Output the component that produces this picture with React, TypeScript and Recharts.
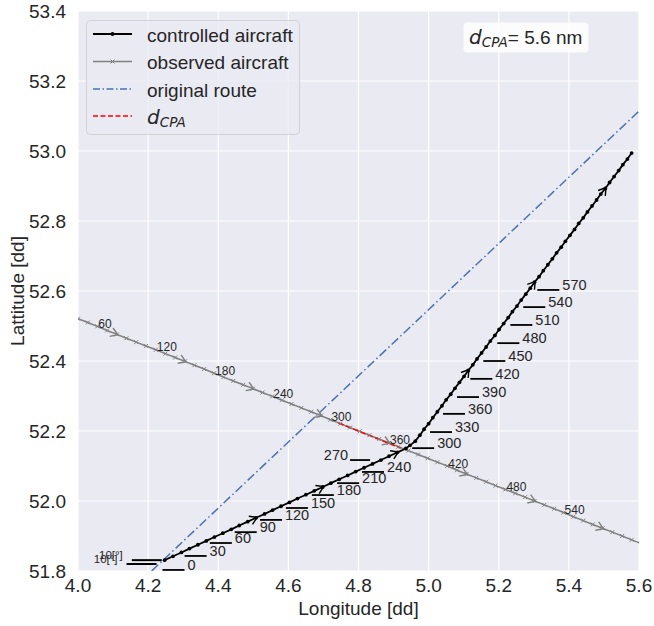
import React from "react";
import { ComposedChart, Line, Scatter, XAxis, YAxis, CartesianGrid, Label } from "recharts";

const FONT = '"Liberation Sans", Arial, sans-serif';
const MATH = '"DejaVu Sans", sans-serif';
const INK = "#262626";

// controlled aircraft, one point every 10 s
const ctrlLon = [
  4.247, 4.271, 4.295, 4.318, 4.342, 4.366, 4.389, 4.413, 4.437, 4.46, 4.484, 4.508, 4.532, 4.555, 4.579,
  4.603, 4.626, 4.65, 4.674, 4.698, 4.721, 4.745, 4.769, 4.792, 4.816, 4.84, 4.864, 4.887, 4.911, 4.935,
  4.947, 4.962, 4.975, 4.987, 5.0, 5.012, 5.025, 5.038, 5.05, 5.063, 5.075, 5.088, 5.101, 5.113, 5.126,
  5.138, 5.151, 5.164, 5.176, 5.189, 5.201, 5.214, 5.227, 5.239, 5.252, 5.264, 5.277, 5.29, 5.302, 5.315,
  5.327, 5.34, 5.353, 5.365, 5.378, 5.39, 5.403, 5.416, 5.428, 5.441, 5.453, 5.466, 5.479, 5.491, 5.504,
  5.516, 5.529, 5.542, 5.554, 5.567, 5.579,
];
const ctrlLat = [
  51.831, 51.842, 51.853, 51.864, 51.875, 51.886, 51.897, 51.908, 51.919, 51.93, 51.941, 51.952, 51.963,
  51.974, 51.985, 51.996, 52.007, 52.018, 52.029, 52.04, 52.051, 52.062, 52.073, 52.084, 52.095, 52.106,
  52.117, 52.128, 52.139, 52.15, 52.159, 52.171, 52.188, 52.205, 52.221, 52.238, 52.255, 52.272, 52.289,
  52.305, 52.322, 52.339, 52.356, 52.373, 52.389, 52.406, 52.423, 52.44, 52.457, 52.473, 52.49, 52.507,
  52.524, 52.541, 52.557, 52.574, 52.591, 52.608, 52.625, 52.641, 52.658, 52.675, 52.692, 52.709, 52.725,
  52.742, 52.759, 52.776, 52.793, 52.809, 52.826, 52.843, 52.86, 52.877, 52.893, 52.91, 52.927, 52.944,
  52.961, 52.977, 52.994,
];
const ctrlArrowIdx = [11, 19, 28, 43, 58, 74];

// observed aircraft, one point every 10 s
const obsLon = [
  3.889, 3.917, 3.944, 3.972, 4.0, 4.028, 4.055, 4.083, 4.111, 4.138, 4.166, 4.194, 4.222, 4.249, 4.277,
  4.305, 4.332, 4.36, 4.388, 4.415, 4.443, 4.471, 4.499, 4.526, 4.554, 4.582, 4.609, 4.637, 4.665, 4.693,
  4.72, 4.748, 4.776, 4.803, 4.831, 4.859, 4.887, 4.914, 4.942, 4.97, 4.997, 5.025, 5.053, 5.081, 5.108,
  5.136, 5.164, 5.191, 5.219, 5.247, 5.275, 5.302, 5.33, 5.358, 5.385, 5.413, 5.441, 5.468, 5.496, 5.524,
  5.552, 5.579, 5.607,
];
const obsLat = [
  52.565, 52.554, 52.543, 52.532, 52.521, 52.51, 52.499, 52.487, 52.476, 52.465, 52.454, 52.443, 52.432,
  52.421, 52.41, 52.399, 52.388, 52.377, 52.365, 52.354, 52.343, 52.332, 52.321, 52.31, 52.299, 52.288,
  52.277, 52.266, 52.255, 52.244, 52.232, 52.221, 52.21, 52.199, 52.188, 52.177, 52.166, 52.155, 52.144,
  52.133, 52.122, 52.111, 52.1, 52.088, 52.077, 52.066, 52.055, 52.044, 52.033, 52.022, 52.011, 52.0,
  51.989, 51.978, 51.967, 51.955, 51.944, 51.933, 51.922, 51.911, 51.9, 51.889, 51.878,
];
const obsArrowIdx = [8, 15, 22, 29, 36, 44, 51, 58];
const obsLabelIdx = [6, 12, 18, 24, 30, 36, 42, 48, 54];
const obsLabelText = ["60", "120", "180", "240", "300", "360", "420", "480", "540"];

// original route and CPA segment
const routeLon = [4.21, 5.6];
const routeLat = [51.8, 53.114];
const cpaLon = [4.743, 4.92];
const cpaLat = [52.223, 52.151];

// time labels of the controlled aircraft
const ctrlLabelText = ["0", "30", "60", "90", "120", "150", "180", "210", "240", "300", "330", "360", "390", "420", "450", "480", "510", "540", "570"];
const ctrlLabelLon = [4.241, 4.304, 4.376, 4.447, 4.519, 4.593, 4.667, 4.739, 4.81, 4.953, 5.004, 5.041, 5.081, 5.119, 5.156, 5.196, 5.233, 5.27, 5.31];
const ctrlLabelLat = [51.803, 51.843, 51.88, 51.911, 51.946, 51.98, 52.017, 52.051, 52.083, 52.151, 52.197, 52.249, 52.297, 52.349, 52.4, 52.451, 52.503, 52.554, 52.603];
const leftLabelText = ["270"];
const leftLabelLon = [4.833];
const leftLabelLat = [52.117];
const hdgLabelText = ["10[°]", "10[°]"];
const hdgLabelLon = [4.239, 4.224];
const hdgLabelLat = [51.831, 51.82];

const xTicks = [4.0, 4.2, 4.4, 4.6, 4.8, 5.0, 5.2, 5.4, 5.6];
const yTicks = [51.8, 52.0, 52.2, 52.4, 52.6, 52.8, 53.0, 53.2, 53.4];

const pts = (lon: number[], lat: number[]) => lon.map((x, i) => ({ lon: x, lat: lat[i] }));
const heading = (lon: number[], lat: number[], i: number) =>
  Math.atan2(-(lat[i + 1] - lat[i - 1]), lon[i + 1] - lon[i - 1]);

const ctrlData = pts(ctrlLon, ctrlLat);
const obsData = pts(obsLon, obsLat);
const routeData = pts(routeLon, routeLat);
const cpaData = pts(cpaLon, cpaLat);
const ctrlArrows = ctrlArrowIdx.map((i) => ({ lon: ctrlLon[i], lat: ctrlLat[i], angle: heading(ctrlLon, ctrlLat, i) }));
const obsArrows = obsArrowIdx.map((i) => ({ lon: obsLon[i], lat: obsLat[i], angle: heading(obsLon, obsLat, i) }));
const obsLabels = obsLabelIdx.map((i, k) => ({ lon: obsLon[i], lat: obsLat[i], text: obsLabelText[k] }));
const ctrlLabels = ctrlLabelText.map((t, i) => ({ lon: ctrlLabelLon[i], lat: ctrlLabelLat[i], text: t }));
const leftLabels = leftLabelText.map((t, i) => ({ lon: leftLabelLon[i], lat: leftLabelLat[i], text: t }));
const hdgLabels = hdgLabelText.map((t, i) => ({ lon: hdgLabelLon[i], lat: hdgLabelLat[i], text: t }));

const arrowShape = (color: string) => (p: any) => (
  <path
    d="M-6,-4.5L1,0L-6,4.5"
    transform={`translate(${p.cx},${p.cy}) rotate(${(p.payload.angle * 180) / Math.PI})`}
    fill="none"
    stroke={color}
    strokeWidth={1.4}
  />
);

const obsLabelShape = (p: any) => (
  <text x={p.cx + 1} y={p.cy + 1.5} fontSize={12} fontFamily={FONT} fill={INK}>
    {p.payload.text}
  </text>
);

const ctrlLabelShape = (p: any) => (
  <g>
    <line x1={p.cx} y1={p.cy} x2={p.cx + 22} y2={p.cy} stroke="#000" strokeWidth={1.8} />
    <text x={p.cx + 25} y={p.cy} fontSize={14.5} fontFamily={FONT} fill={INK}>
      {p.payload.text}
    </text>
  </g>
);

const leftLabelShape = (p: any) => (
  <g>
    <line x1={p.cx - 20} y1={p.cy} x2={p.cx} y2={p.cy} stroke="#000" strokeWidth={1.8} />
    <text x={p.cx - 22} y={p.cy} fontSize={14.5} fontFamily={FONT} fill={INK} textAnchor="end">
      {p.payload.text}
    </text>
  </g>
);

const hdgLabelShape = (p: any) => (
  <g>
    <line x1={p.cx - 30} y1={p.cy} x2={p.cx} y2={p.cy} stroke="#000" strokeWidth={2} />
    <text x={p.cx - 39} y={p.cy - 1} fontSize={11.5} fontFamily={FONT} fill={INK} textAnchor="end">
      {p.payload.text}
    </text>
  </g>
);

const ctrlDot = (p: any) => <circle key={p.index} cx={p.cx} cy={p.cy} r={1.9} fill="#000" />;
const obsDot = (p: any) => (
  <path
    key={p.index}
    d={`M${p.cx - 2},${p.cy - 2}L${p.cx + 2},${p.cy + 2}M${p.cx - 2},${p.cy + 2}L${p.cx + 2},${p.cy - 2}`}
    stroke="#808080"
    strokeWidth={1}
  />
);

function Overlay() {
  const sx1 = 93;
  const sx2 = 132;
  const mid = (sx1 + sx2) / 2;
  const base = [41.5, 69, 96.5, 124];
  const tStyle = { fontSize: 19, fontFamily: FONT, fill: INK };
  return (
    <svg width={654} height={626} style={{ position: "absolute", left: 0, top: 0, pointerEvents: "none" }}>
      <rect x={86.5} y={20.5} width={213} height={114} rx={4} fill="#eaeaf2" fillOpacity={0.8} stroke="#cccccc" strokeOpacity={0.8} />
      <line x1={sx1} x2={sx2} y1={base[0] - 7.5} y2={base[0] - 7.5} stroke="#000" strokeWidth={1.8} />
      <circle cx={mid} cy={base[0] - 7.5} r={2} fill="#000" />
      <text x={147} y={base[0]} {...tStyle}>controlled aircraft</text>
      <line x1={sx1} x2={sx2} y1={base[1] - 7.5} y2={base[1] - 7.5} stroke="#808080" strokeWidth={1.5} />
      <path d={`M${mid - 2},${base[1] - 9.5}L${mid + 2},${base[1] - 5.5}M${mid - 2},${base[1] - 5.5}L${mid + 2},${base[1] - 9.5}`} stroke="#808080" strokeWidth={1} />
      <text x={147} y={base[1]} {...tStyle}>observed aircraft</text>
      <line x1={sx1} x2={sx2} y1={base[2] - 7.5} y2={base[2] - 7.5} stroke="#4c72b0" strokeWidth={1.5} strokeDasharray="7 2.5 1.5 2.5" />
      <text x={147} y={base[2]} {...tStyle}>original route</text>
      <line x1={sx1} x2={sx2} y1={base[3] - 8} y2={base[3] - 8} stroke="#ff0000" strokeWidth={1.5} strokeDasharray="5 2.5" />
      <text x={147} y={base[3]} fill={INK}>
        <tspan fontFamily={MATH} fontStyle="italic" fontSize={20}>d</tspan>
        <tspan fontFamily={MATH} fontStyle="italic" fontSize={13.5} dy={3}>CPA</tspan>
      </text>

      <rect x={463.5} y={22.5} width={125} height={30} rx={4} fill="#ffffff" fillOpacity={0.85} />
      <text x={469} y={43.5} fill={INK}>
        <tspan fontFamily={MATH} fontStyle="italic" fontSize={20}>d</tspan>
        <tspan fontFamily={MATH} fontStyle="italic" fontSize={13.5} dy={3.5}>CPA</tspan>
        <tspan fontFamily={FONT} fontSize={19} dy={-3.5}>= 5.6 nm</tspan>
      </text>
    </svg>
  );
}

export default function App() {
  const tick = { fontSize: 19, fontFamily: FONT, fill: INK };
  return (
    <div style={{ position: "absolute", left: 0, top: 0, width: 654, height: 626, background: "#fff" }}>
      <ComposedChart width={654} height={626} margin={{ top: 11, right: 15, bottom: 25, left: 8 }}>
        <CartesianGrid fill="#eaeaf2" fillOpacity={1} stroke="#ffffff" strokeWidth={1.2} />
        <XAxis
          type="number"
          dataKey="lon"
          domain={[4.0, 5.6]}
          ticks={xTicks}
          interval={0}
          allowDataOverflow
          axisLine={false}
          tickLine={false}
          tickSize={0}
          tickMargin={8}
          height={30}
          tick={tick}
          tickFormatter={(v: number) => v.toFixed(1)}
        >
          <Label value="Longitude [dd]" position="bottom" offset={1} style={{ fontSize: 19, fontFamily: FONT, fill: INK }} />
        </XAxis>
        <YAxis
          type="number"
          dataKey="lat"
          domain={[51.8, 53.4]}
          ticks={yTicks}
          interval={0}
          allowDataOverflow
          axisLine={false}
          tickLine={false}
          tickSize={0}
          tickMargin={12}
          width={70}
          tick={tick}
          tickFormatter={(v: number) => v.toFixed(1)}
        >
          <Label
            value="Lattitude [dd]"
            angle={-90}
            position="insideLeft"
            offset={9}
            style={{ fontSize: 19, fontFamily: FONT, fill: INK, textAnchor: "middle" }}
          />
        </YAxis>

        <Line data={routeData} dataKey="lat" stroke="#4c72b0" strokeWidth={1.5} strokeDasharray="9 3 1.5 3" dot={false} isAnimationActive={false} />
        <Line data={obsData} dataKey="lat" stroke="#808080" strokeWidth={1.5} dot={obsDot} isAnimationActive={false} />
        <Scatter data={obsArrows} shape={arrowShape("#808080")} isAnimationActive={false} />
        <Line data={ctrlData} dataKey="lat" stroke="#000000" strokeWidth={1.8} dot={ctrlDot} isAnimationActive={false} />
        <Scatter data={ctrlArrows} shape={arrowShape("#000000")} isAnimationActive={false} />
        <Line data={cpaData} dataKey="lat" stroke="#ff0000" strokeWidth={1.5} strokeDasharray="5.5 2.4" dot={false} isAnimationActive={false} />
        <Scatter data={obsLabels} shape={obsLabelShape} isAnimationActive={false} />
        <Scatter data={ctrlLabels} shape={ctrlLabelShape} isAnimationActive={false} />
        <Scatter data={leftLabels} shape={leftLabelShape} isAnimationActive={false} />
        <Scatter data={hdgLabels} shape={hdgLabelShape} isAnimationActive={false} />
      </ComposedChart>
      <Overlay />
    </div>
  );
}
